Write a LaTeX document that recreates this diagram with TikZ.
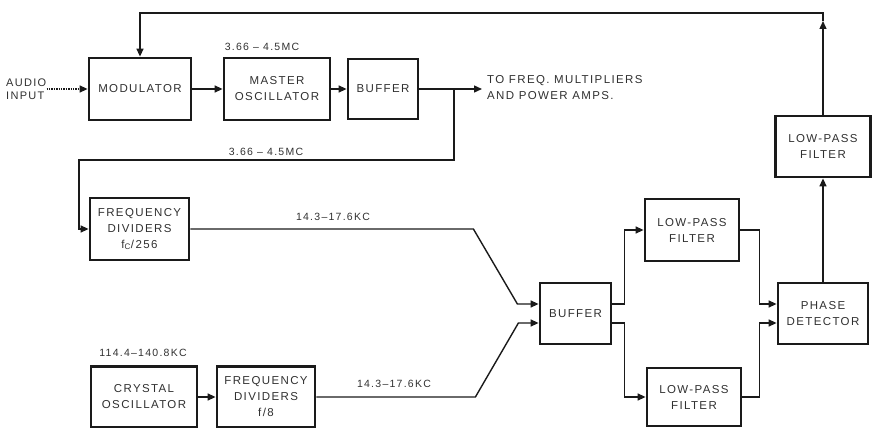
\documentclass[tikz,border=0pt]{standalone}
\usepackage{fontspec}
\setmainfont[LetterSpace=12]{Liberation Sans}
\usetikzlibrary{arrows.meta, positioning}
\definecolor{inkline}{HTML}{1A1A1A}
\definecolor{inktext}{HTML}{303030}

\begin{document}
\begin{tikzpicture}[
    x=1pt, y=-1pt,
    >={Triangle[length=8pt, width=7pt]},
    every node/.style={font=\fontsize{11.5}{16}\selectfont, text=inktext},
    block/.style={rectangle, draw=inkline, line width=2.8pt, inner sep=0pt,
                  minimum width=#1, minimum height=61pt, align=center},
    block/.default=100pt,
    wire/.style={draw=inkline, line width=1.4pt},
    lbl/.style={font=\fontsize{10.5}{12}\selectfont, inner sep=0pt},
  ]
  \useasboundingbox (0,0) rectangle (876,428);

  % transmitter chain
  \node[font=\fontsize{11}{13}\selectfont, align=left, anchor=west, inner sep=0pt]
    (ain) at (6,89) {AUDIO\\INPUT};
  \node[block=102pt, minimum height=62pt] (mod) at (140,89) {MODULATOR};
  \node[block=106pt, minimum height=62pt] (mosc) at (277,89) {MASTER\\OSCILLATOR};
  \node[block=70pt, minimum height=60pt] (buf1) at (383,89) {BUFFER};
  \node[lbl] at (262,47) {3.66 -- 4.5MC};
  \coordinate (out) at (482,89);
  \coordinate (br) at (454,89);
  \node[align=left, anchor=west, inner sep=0pt] (dest) at (487,88)
    {TO FREQ. MULTIPLIERS\\AND POWER AMPS.};

  \draw[wire, ->, densely dotted] (ain.east |- mod) -- (mod);
  \draw[wire, ->] (mod) -- (mosc);
  \draw[wire, ->] (mosc) -- (buf1);
  \draw[wire, ->] (buf1) -- (out);

  % divider from master oscillator
  \node[lbl] at (266,152) {3.66 -- 4.5MC};
  \node[block=99pt, minimum height=62pt] (fd1) at (139.5,229)
    {FREQUENCY\\DIVIDERS\\f\textsubscript{C}/256};
  \draw[wire, ->] (br) -- ++(0,71) -- ++(-375,0) |- (fd1.west);
  \node[lbl] at (333,217) {14.3--17.6KC};

  % crystal reference
  \node[lbl] at (143,353) {114.4--140.8KC};
  \node[block=106pt] (xtal) at (144,397) {CRYSTAL\\OSCILLATOR};
  \node[block=98pt] (fd2) at (266,397) {FREQUENCY\\DIVIDERS\\f/8};
  \draw[wire, ->] (xtal) -- (fd2);
  \node[lbl] at (394,384) {14.3--17.6KC};

  % comparison
  \node[block=71pt] (buf2) at (575.5,313.5) {BUFFER};
  \node[block=94pt, minimum height=62pt] (lpf1) at (692,230) {LOW-PASS\\FILTER};
  \node[block=94pt, minimum height=58pt] (lpf2) at (694,397) {LOW-PASS\\FILTER};
  \node[block=90pt] (pd) at (823,313.5) {PHASE\\DETECTOR};
  \node[block=95pt] (lpf3) at (823,146.5) {LOW-PASS\\FILTER};

  \draw[wire, ->] (fd1.east) -- ++(283,0) -- ++(44,75) -- ([yshift=9.5pt]buf2.west);
  \draw[wire, ->] (fd2.east) -- ++(159,0) -- ++(43,-74) -- ([yshift=-9.5pt]buf2.west);
  \draw[wire, ->] ([yshift=9.5pt]buf2.east) -- ++(12,0) |- (lpf1.west);
  \draw[wire, ->] ([yshift=-9.5pt]buf2.east) -- ++(12,0) |- (lpf2.west);
  \draw[wire, ->] (lpf1.east) -- ++(19,0) |- ([yshift=9.5pt]pd.west);
  \draw[wire, ->] (lpf2.east) -- ++(17,0) |- ([yshift=-9.5pt]pd.west);
  \draw[wire, ->] (pd) -- (lpf3);

  % feedback to modulator
  \coordinate (fbup) at (823,21);
  \draw[wire, ->] (lpf3) -- (fbup);
  \draw[wire, ->] (fbup) -- ++(0,-8) -| (mod.north);
\end{tikzpicture}
\end{document}
